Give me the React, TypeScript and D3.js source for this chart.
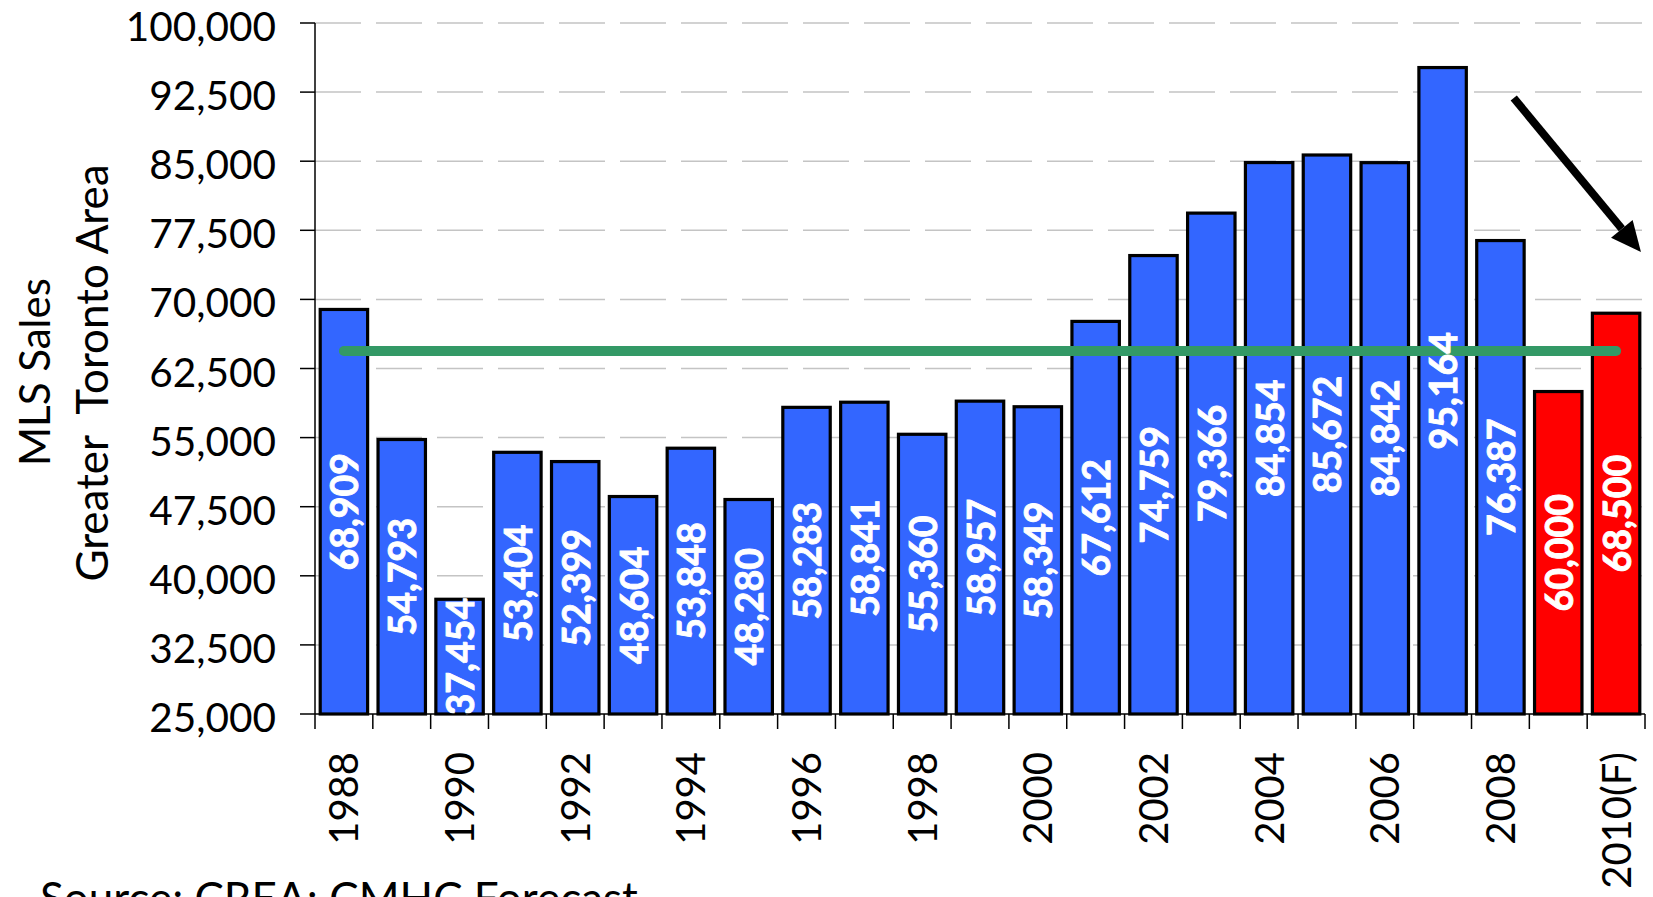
import React from "react";
import * as d3 from "d3";

const categories = [
  "1988", "1989", "1990", "1991", "1992", "1993", "1994", "1995", "1996", "1997", "1998", "1999",
  "2000", "2001", "2002", "2003", "2004", "2005", "2006", "2007", "2008", "2009", "2010(F)",
];
const sales = [
  68909, 54793, 37454, 53404, 52399, 48604, 53848, 48280, 58283, 58841, 55360, 58957,
  58349, 67612, 74759, 79366, 84854, 85672, 84842, 95164, 76387, 60000, 68500,
];
const redCategories = ["2009", "2010(F)"];
const xLabelCategories = ["1988", "1990", "1992", "1994", "1996", "1998", "2000", "2002", "2004", "2006", "2008", "2010(F)"];
const yTicks = [25000, 32500, 40000, 47500, 55000, 62500, 70000, 77500, 85000, 92500, 100000];
const averageValue = 64400; // 1988-2008 average (green line)
// arrow annotation in data units: [category index position, value]
const arrowFrom = [20.73, 91860];
const arrowTo = [22.93, 75150];

const W = 1653;
const H = 897;
const FONT = "Lato, 'Open Sans', sans-serif";

export default function App() {
  const x = d3.scaleBand<string>().domain(categories).range([315, 1645]).paddingInner(0.18).paddingOuter(0.09);
  const y = d3.scaleLinear().domain([25000, 100000]).range([714, 23]);
  const xi = d3.scaleLinear().domain([0, categories.length]).range([315, 1645]);
  const fmt = d3.format(",");
  const bw = x.bandwidth();

  const first = categories[0];
  const last = categories[categories.length - 1];
  const lineX1 = (x(first) as number) + bw / 2;
  const lineX2 = (x(last) as number) + bw / 2;

  // arrow geometry
  const ax1 = xi(arrowFrom[0]);
  const ay1 = y(arrowFrom[1]);
  const ax2 = xi(arrowTo[0]);
  const ay2 = y(arrowTo[1]);
  const dx = ax2 - ax1;
  const dy = ay2 - ay1;
  const len = Math.sqrt(dx * dx + dy * dy);
  const ux = dx / len;
  const uy = dy / len;
  const headLen = 30;
  const headHalf = 14;
  const bx = ax2 - ux * headLen;
  const by = ay2 - uy * headLen;
  const px = -uy;
  const py = ux;
  const headPts = `${ax2},${ay2} ${bx + px * headHalf},${by + py * headHalf} ${bx - px * headHalf},${by - py * headHalf}`;

  const boundaries = d3.range(categories.length + 1).map((i) => xi(i));

  return (
    <svg
      width={W}
      height={H}
      style={{ position: "absolute", left: 0, top: 0, background: "#fff" }}
      fontFamily={FONT}
    >
      <rect x={0} y={0} width={W} height={H} fill="#fff" />
      {/* gridlines */}
      {yTicks.slice(1).map((t) => (
        <line
          key={"g" + t}
          x1={315}
          x2={1645}
          y1={y(t)}
          y2={y(t)}
          stroke="#c4c4c4"
          strokeWidth={1.5}
          strokeDasharray="46,15"
        />
      ))}
      {/* bars */}
      {categories.map((c, i) => {
        const top = y(sales[i]);
        return (
          <rect
            key={"b" + c}
            x={x(c)}
            y={top}
            width={bw}
            height={y(25000) - top}
            fill={redCategories.includes(c) ? "#ff0000" : "#3366ff"}
            stroke="#000"
            strokeWidth={3.2}
          />
        );
      })}
      {/* average line */}
      <line
        x1={lineX1}
        x2={lineX2}
        y1={y(averageValue)}
        y2={y(averageValue)}
        stroke="#339966"
        strokeWidth={10}
        strokeLinecap="round"
      />
      {/* bar value labels */}
      {categories.map((c, i) => {
        const cx = (x(c) as number) + bw / 2;
        const cy = (y(sales[i]) + y(25000)) / 2;
        return (
          <text
            key={"l" + c}
            transform={`translate(${cx},${cy}) rotate(-90)`}
            textAnchor="middle"
            dominantBaseline="central"
            fill="#fff"
            stroke="#fff"
            strokeWidth={0.9}
            fontWeight="bold"
            fontSize={37.5}
          >
            {fmt(sales[i])}
          </text>
        );
      })}
      {/* axes */}
      <line x1={315} x2={315} y1={y(100000)} y2={y(25000)} stroke="#000" strokeWidth={1.5} />
      <line x1={315} x2={1645} y1={y(25000)} y2={y(25000)} stroke="#000" strokeWidth={1.5} />
      {yTicks.map((t) => (
        <g key={"yt" + t}>
          <line x1={300} x2={315} y1={y(t)} y2={y(t)} stroke="#000" strokeWidth={1.5} />
          <text x={276} y={y(t) + 18} textAnchor="end" fontSize={40.5} fill="#000">
            {fmt(t)}
          </text>
        </g>
      ))}
      {boundaries.map((bxv, i) => (
        <line key={"xt" + i} x1={bxv} x2={bxv} y1={y(25000)} y2={y(25000) + 15} stroke="#000" strokeWidth={1.5} />
      ))}
      {xLabelCategories.map((c) => {
        const cx = (x(c) as number) + bw / 2 + 14.5;
        return (
          <text
            key={"xl" + c}
            transform={`translate(${cx},752) rotate(-90)`}
            textAnchor="end"
            fontSize={40}
            fill="#000"
          >
            {c}
          </text>
        );
      })}
      {/* y axis title */}
      <text transform="translate(49.5,372) rotate(-90)" textAnchor="middle" fontSize={42} fill="#000">
        MLS Sales
      </text>
      <text
        transform="translate(108,373) rotate(-90)"
        textAnchor="middle"
        fontSize={44}
        fill="#000"
        style={{ whiteSpace: "pre" }}
      >
        {"Greater  Toronto Area"}
      </text>
      {/* arrow */}
      <line x1={ax1} y1={ay1} x2={bx} y2={by} stroke="#000" strokeWidth={8} />
      <polygon points={headPts} fill="#000" />
      {/* source */}
      <text x={40} y={914} fontSize={44} fill="#000">
        Source: CREA; CMHC Forecast
      </text>
    </svg>
  );
}
